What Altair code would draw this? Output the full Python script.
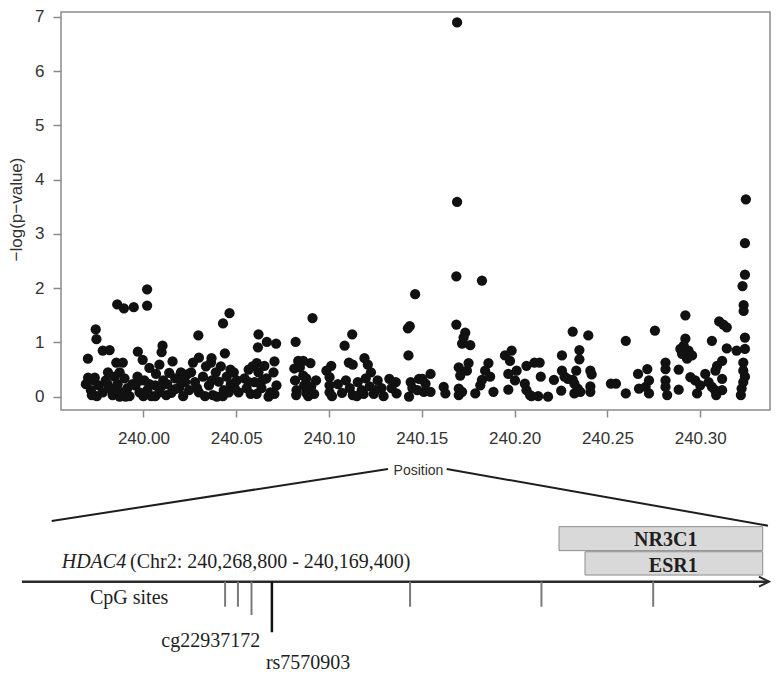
import altair as alt
import pandas as pd

# ---------------- scatter data (position in Mb, -log10 p) ----------------
pos_a = [239.9701, 239.9743, 239.9747, 239.9781, 239.9818, 239.9859, 239.9895, 239.9948, 240.0020, 240.0020,
         240.0103, 240.0098, 239.9970, 239.9996, 239.9854, 239.9889, 240.0032, 240.0086, 240.0157, 240.0068,
         240.0202, 239.9809, 239.9872, 239.9702, 239.9738, 239.9690, 239.9717, 239.9749, 239.9759, 239.9733,
         239.9797, 239.9818, 239.9834, 239.9861, 239.9882, 239.9898, 239.9914, 239.9872, 239.9925, 239.9845,
         239.9957, 239.9979, 240.0005, 240.0021, 240.0043, 240.0064, 240.0086, 240.0107, 240.0000, 239.9968,
         240.0128, 240.0150, 240.0171, 240.0193, 240.0214, 240.0225, 240.0246, 240.0139,
         239.9722, 239.9781, 239.9807, 239.9850, 239.9904, 239.9941, 239.9984, 240.0032, 240.0064, 240.0096,
         240.0123, 240.0171, 240.0198, 240.0235]
nlp_a = [0.70, 1.24, 1.06, 0.85, 0.86, 1.70, 1.63, 1.65, 1.98, 1.68,
         0.94, 0.82, 0.83, 0.68, 0.63, 0.63, 0.53, 0.59, 0.65, 0.42,
         0.45, 0.45, 0.45, 0.35, 0.35, 0.23, 0.12, 0.01, 0.21, 0.30,
         0.30, 0.16, 0.03, 0.23, 0.08, 0.34, 0.16, 0.00, 0.01, 0.37,
         0.21, 0.08, 0.30, 0.12, 0.01, 0.21, 0.08, 0.30, 0.01, 0.37,
         0.23, 0.07, 0.34, 0.16, 0.01, 0.27, 0.12, 0.44,
         0.03, 0.08, 0.23, 0.12, 0.00, 0.23, 0.30, 0.23, 0.01, 0.19,
         0.03, 0.14, 0.30, 0.41]

pos_b = [240.0296, 240.0429, 240.0464, 240.0620, 240.0617, 240.0665, 240.0715, 240.0820, 240.0299, 240.0367,
         240.0439, 240.0469, 240.0567, 240.0611, 240.0706, 240.0834, 240.0843, 240.0817, 240.0825, 240.0257,
         240.0278, 240.0299, 240.0321, 240.0337, 240.0353, 240.0374, 240.0390, 240.0406, 240.0417, 240.0433,
         240.0449, 240.0471, 240.0487, 240.0396, 240.0503, 240.0513, 240.0267, 240.0364, 240.0545, 240.0556,
         240.0578, 240.0599, 240.0620, 240.0636, 240.0652, 240.0663, 240.0684, 240.0701, 240.0717, 240.0674,
         240.0588, 240.0813, 240.0823, 240.0861, 240.0866, 240.0877,
         240.0289, 240.0332, 240.0369, 240.0428, 240.0460, 240.0492, 240.0567, 240.0610, 240.0642, 240.0706]
nlp_b = [1.13, 1.35, 1.54, 1.15, 0.91, 1.01, 0.98, 1.01, 0.72, 0.71,
         0.80, 0.50, 0.50, 0.62, 0.65, 0.66, 0.54, 0.30, 0.12, 0.45,
         0.27, 0.08, 0.37, 0.56, 0.21, 0.03, 0.45, 0.28, 0.56, 0.12,
         0.37, 0.23, 0.45, 0.00, 0.30, 0.08, 0.63, 0.63, 0.34, 0.16,
         0.05, 0.27, 0.45, 0.16, 0.57, 0.34, 0.08, 0.45, 0.21, 0.00,
         0.56, 0.52, 0.03, 0.39, 0.21, 0.07,
         0.16, 0.01, 0.30, 0.01, 0.08, 0.16, 0.27, 0.05, 0.30, 0.05]

pos_c = [240.0911, 240.1125, 240.1084, 240.0900, 240.0861, 240.1012, 240.1107, 240.1128, 240.1191, 240.1209,
         240.1226, 240.0986, 240.1003, 240.1003, 240.1003, 240.1016, 240.0877, 240.0904, 240.0920, 240.0888,
         240.1091, 240.1112, 240.1128, 240.1155, 240.1176, 240.1198, 240.1219, 240.1241, 240.1262, 240.1283,
         240.1070, 240.1325, 240.1360, 240.1364, 240.1337,
         240.0930, 240.1048, 240.1150, 240.1187, 240.1251, 240.1294]
nlp_c = [1.45, 1.15, 0.94, 0.62, 0.66, 0.57, 0.63, 0.59, 0.71, 0.59,
         0.45, 0.48, 0.36, 0.21, 0.08, 0.01, 0.34, 0.19, 0.05, 0.01,
         0.30, 0.16, 0.03, 0.27, 0.12, 0.34, 0.19, 0.05, 0.30, 0.16,
         0.07, 0.33, 0.27, 0.06, 0.16,
         0.30, 0.23, 0.01, 0.05, 0.12, 0.01]

pos_d = [240.1464, 240.1435, 240.1425, 240.1428, 240.1440, 240.1449, 240.1485, 240.1431, 240.1503, 240.1520,
         240.1511, 240.1547, 240.1547, 240.1476, 240.1618, 240.1627]
nlp_d = [1.89, 1.30, 1.26, 0.76, 0.27, 0.16, 0.33, 0.00, 0.33, 0.24,
         0.09, 0.09, 0.42, 0.12, 0.18, 0.06]

pos_e = [240.1690, 240.1690, 240.1686, 240.1824, 240.1686, 240.1734, 240.1725, 240.1717, 240.1761, 240.1984,
         240.1948, 240.1975, 240.1699, 240.1752, 240.1743, 240.1707, 240.1859, 240.1841, 240.1868, 240.1824,
         240.1815, 240.2011, 240.1966, 240.2064, 240.2002, 240.2055, 240.2064, 240.1966, 240.2107, 240.1699,
         240.1699, 240.1717, 240.1788, 240.1886, 240.2083]
nlp_e = [6.90, 3.59, 2.22, 2.14, 1.33, 1.18, 1.09, 0.98, 0.95, 0.85,
         0.76, 0.66, 0.54, 0.62, 0.48, 0.39, 0.62, 0.48, 0.37, 0.31,
         0.21, 0.48, 0.42, 0.57, 0.30, 0.24, 0.12, 0.13, 0.63, 0.15,
         0.03, 0.09, 0.06, 0.09, 0.03]

pos_f = [240.2313, 240.2397, 240.2599, 240.2135, 240.2255, 240.2349, 240.2349, 240.2141, 240.2212, 240.2255,
         240.2269, 240.2287, 240.2332, 240.2408, 240.2415, 240.2313, 240.2322, 240.2340, 240.2322, 240.2354,
         240.2408, 240.2408, 240.2251, 240.2091, 240.2127, 240.2180, 240.2519, 240.2546, 240.2599, 240.2665,
         240.2715, 240.2670, 240.2706, 240.2724]
nlp_f = [1.20, 1.13, 1.03, 0.63, 0.76, 0.86, 0.69, 0.37, 0.31, 0.48,
         0.37, 0.33, 0.48, 0.48, 0.41, 0.31, 0.24, 0.15, 0.06, 0.09,
         0.19, 0.09, 0.11, 0.01, 0.01, 0.00, 0.24, 0.24, 0.06, 0.42,
         0.51, 0.15, 0.18, 0.06]

pos_g = [240.2756, 240.2920, 240.2920, 240.3102, 240.3125, 240.3143, 240.3063, 240.2893, 240.2911, 240.2937,
         240.2902, 240.2929, 240.2956, 240.3143, 240.3196, 240.2813, 240.2813, 240.2884, 240.3118, 240.3091,
         240.3082, 240.2724, 240.2813, 240.2813, 240.2822, 240.2884, 240.2947, 240.2973, 240.3000, 240.3027,
         240.3045, 240.3063, 240.2983, 240.3080, 240.3118, 240.3118, 240.3086]
nlp_g = [1.22, 1.50, 1.07, 1.39, 1.33, 1.28, 1.03, 0.88, 0.94, 0.85,
         0.79, 0.70, 0.76, 0.89, 0.85, 0.63, 0.51, 0.50, 0.66, 0.57,
         0.48, 0.30, 0.30, 0.18, 0.03, 0.13, 0.36, 0.30, 0.21, 0.42,
         0.27, 0.18, 0.06, 0.12, 0.33, 0.12, 0.03]

pos_h = [240.3246, 240.3241, 240.3241, 240.3228, 240.3234, 240.3234, 240.3241, 240.3241, 240.3232, 240.3232,
         240.3232, 240.3223, 240.3219, 240.3241]
nlp_h = [3.64, 2.83, 2.25, 2.04, 1.69, 1.58, 1.09, 0.88, 0.63, 0.48,
         0.27, 0.15, 0.03, 0.37]

positions = pos_a + pos_b + pos_c + pos_d + pos_e + pos_f + pos_g + pos_h
neglogp = nlp_a + nlp_b + nlp_c + nlp_d + nlp_e + nlp_f + nlp_g + nlp_h

x_ticks = [240.00, 240.05, 240.10, 240.15, 240.20, 240.25, 240.30]
y_ticks = [0, 1, 2, 3, 4, 5, 6, 7]

# ---------------- gene schematic (schematic units 0-100) ----------------
zoom_x = [3.93, 56.25]
zoom_y = [27.7, 4.09]
zoom_x2 = [48.48, 98.81]
zoom_y2 = [4.09, 29.86]

track_start = [0.0]
track_end = [98.94]
track_level = [55.3]

cpg_x = [26.9, 28.6, 30.4, 51.4, 68.8, 83.6]
cpg_end = [66.7, 66.7, 70.45, 66.7, 66.7, 66.7]
snp_x = [33.1]
snp_end = [78.3]

box_names = ["NR3C1", "ESR1"]
box_start = [71.13, 74.57]
box_end = [98.11, 98.11]
box_top = [30.3, 41.7]
box_bottom = [41.2, 52.3]
box_label_x = [85.27, 86.26]
box_label_y = [39.3, 50.8]

gene_name = "HDAC4"
gene_coords = "(Chr2: 240,268,800 - 240,169,400)"
site_labels = ["cg22937172", "rs7570903"]
site_label_x = [25.0, 37.9]
site_label_y = [84.9, 94.8]

SERIF = "Liberation Serif"
SANS = "Liberation Sans"
INK = "#1e1e1e"

df = pd.DataFrame({"position": positions, "nlp": neglogp})

scatter = alt.Chart(df).mark_circle(size=105, color="#111111", opacity=1).encode(
    x=alt.X("position:Q",
            scale=alt.Scale(domain=[239.9556, 240.3376], nice=False, zero=False),
            axis=alt.Axis(values=x_ticks, format=".2f", title="Position", grid=False, domain=False,
                          tickSize=7, tickWidth=1.5, tickColor="#8a8a8a", labelPadding=13,
                          labelFont=SANS, labelFontSize=17, labelColor="#333333", labelOverlap=False,
                          titleFont=SANS, titleFontSize=14, titleFontWeight="normal", titleColor="#333333",
                          titleX=357, titleY=60, titleBaseline="middle")),
    y=alt.Y("nlp:Q",
            scale=alt.Scale(domain=[-0.245, 7.092], nice=False, zero=False),
            axis=alt.Axis(values=y_ticks, format="d", title="\u2212log(p\u2212value)", grid=False, domain=False,
                          tickSize=8, tickWidth=1.5, tickColor="#8a8a8a", labelPadding=9,
                          labelFont=SANS, labelFontSize=17, labelColor="#333333",
                          titleFont=SANS, titleFontSize=17, titleFontWeight="normal", titleColor="#333333",
                          titleX=-44.5, titleY=197, titleBaseline="middle")),
)

sx = alt.Scale(domain=[0, 100], range=[-39, 716])
sy = alt.Scale(domain=[0, 100], range=[448, 668])

def X(field):
    return alt.X(field, type="quantitative", scale=sx, axis=None)

def Y(field):
    return alt.Y(field, type="quantitative", scale=sy, axis=None)

boxes = alt.Chart(pd.DataFrame({"name": box_names, "x": box_start, "x2": box_end,
                                "y": box_top, "y2": box_bottom})).mark_rect(
    fill="#d9d9d9", stroke="#8c8c8c", strokeWidth=1).encode(x=X("x"), x2="x2", y=Y("y"), y2="y2")

box_text = alt.Chart(pd.DataFrame({"name": box_names, "x": box_label_x, "y": box_label_y})).mark_text(
    font=SERIF, fontSize=20, fontWeight="bold", color=INK, align="center", baseline="alphabetic").encode(
    x=X("x"), y=Y("y"), text="name:N")

zoom_lines = alt.Chart(pd.DataFrame({"x": zoom_x, "y": zoom_y, "x2": zoom_x2, "y2": zoom_y2})).mark_rule(
    color=INK, strokeWidth=2).encode(x=X("x"), y=Y("y"), x2="x2", y2="y2")

track = alt.Chart(pd.DataFrame({"x": track_start, "x2": track_end, "y": track_level})).mark_rule(
    color="#2a2a2a", strokeWidth=2.5).encode(x=X("x"), x2="x2", y=Y("y"))

arrow_head = alt.Chart(pd.DataFrame({"x": track_end, "y": track_level})).mark_point(
    shape="M-1,-0.5L0,0L-1,0.5", filled=False, size=400, strokeWidth=2, color="#2a2a2a", opacity=1).encode(
    x=X("x"), y=Y("y"))

cpg = alt.Chart(pd.DataFrame({"x": cpg_x, "y": [track_level[0]] * len(cpg_x), "y2": cpg_end})).mark_rule(
    color="#7a7a7a", strokeWidth=2).encode(x=X("x"), y=Y("y"), y2="y2")

snp = alt.Chart(pd.DataFrame({"x": snp_x, "y": track_level, "y2": snp_end})).mark_rule(
    color="#111111", strokeWidth=2.5).encode(x=X("x"), y=Y("y"), y2="y2")

gene_italic = alt.Chart(pd.DataFrame({"t": [gene_name], "x": [5.26], "y": [48.9]})).mark_text(
    font=SERIF, fontSize=20, fontStyle="italic", color=INK, align="left", baseline="alphabetic").encode(
    x=X("x"), y=Y("y"), text="t:N")

gene_rest = alt.Chart(pd.DataFrame({"t": [gene_coords], "x": [14.3], "y": [48.9]})).mark_text(
    font=SERIF, fontSize=20, color=INK, align="left", baseline="alphabetic").encode(
    x=X("x"), y=Y("y"), text="t:N")

cpg_label = alt.Chart(pd.DataFrame({"t": ["CpG sites"], "x": [9.0], "y": [65.45]})).mark_text(
    font=SERIF, fontSize=20, color=INK, align="left", baseline="alphabetic").encode(
    x=X("x"), y=Y("y"), text="t:N")

site_text = alt.Chart(pd.DataFrame({"t": site_labels, "x": site_label_x, "y": site_label_y})).mark_text(
    font=SERIF, fontSize=20, color=INK, align="center", baseline="alphabetic").encode(
    x=X("x"), y=Y("y"), text="t:N")

diagram = alt.layer(boxes, box_text, zoom_lines, track, arrow_head, cpg, snp,
                    gene_italic, gene_rest, cpg_label, site_text)

chart = alt.layer(scatter, diagram).resolve_scale(x="independent", y="independent").properties(
    width=709, height=398,
    padding={"left": 53, "top": 4, "right": 1, "bottom": 263},
    autosize=alt.AutoSizeParams(type="none"),
    background="white",
).configure_view(stroke="#8a8a8a", strokeWidth=1.5)

chart.save("out.html", embed_options={"renderer": "svg", "actions": False})
